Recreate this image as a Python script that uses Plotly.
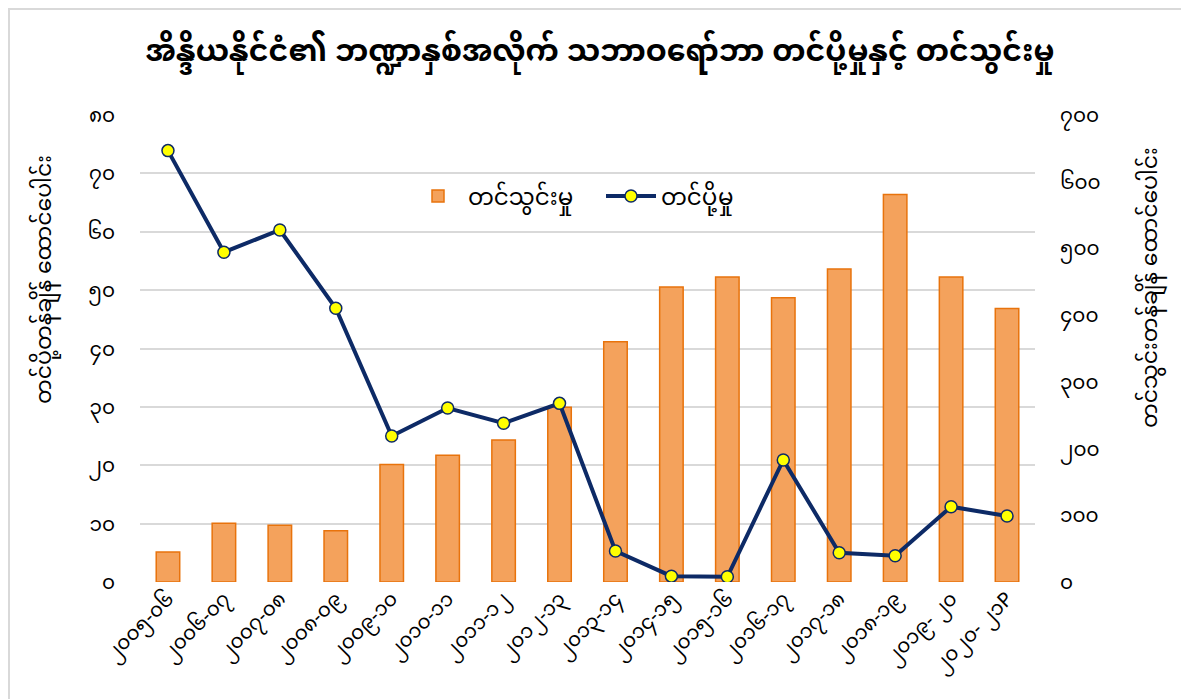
import plotly.graph_objects as go

categories = ["၂၀၀၅-၀၆", "၂၀၀၆-၀၇", "၂၀၀၇-၀၈", "၂၀၀၈-၀၉", "၂၀၀၉-၁၀", "၂၀၁၀-၁၁",
              "၂၀၁၁-၁၂", "၂၀၁၂-၁၃", "၂၀၁၃-၁၄", "၂၀၁၄-၁၅", "၂၀၁၅-၁၆", "၂၀၁၆-၁၇",
              "၂၀၁၇-၁၈", "၂၀၁၈-၁၉", "၂၀၁၉- ၂၀", "၂၀၂၀- ၂၁P"]
imports = [45, 88, 85, 77, 176, 190, 213, 262, 360, 442, 457, 426, 469, 581, 457, 410]
exports = [73.9, 56.5, 60.3, 46.9, 25.0, 29.8, 27.2, 30.6, 5.3, 1.0, 0.9, 20.9, 5.0, 4.5, 12.9, 11.3]

left_ticks = [0, 10, 20, 30, 40, 50, 60, 70, 80]
left_ticktext = ["၀", "၁၀", "၂၀", "၃၀", "၄၀", "၅၀", "၆၀", "၇၀", "၈၀"]
right_ticks = [0, 100, 200, 300, 400, 500, 600, 700]
right_ticktext = ["၀", "၁၀၀", "၂၀၀", "၃၀၀", "၄၀၀", "၅၀၀", "၆၀၀", "၇၀၀"]

title_text = "အိန္ဒိယနိုင်ငံ၏ ဘဏ္ဍာနှစ်အလိုက် သဘာဝရော်ဘာ တင်ပို့မှုနှင့် တင်သွင်းမှု"
left_title = "တင်ပို့တန်ချိန် ထောင်ပေါင်း"
right_title = "တင်သွင်းတန်ချိန် ထောင်ပေါင်း"
import_name = "တင်သွင်းမှု"
export_name = "တင်ပို့မှု"

FONT = "Noto Sans Myanmar, Padauk, Myanmar Text, Noto Sans, DejaVu Sans, sans-serif"

# page body adds an 8px offset; plot area placed at screen x 140-1035, y 115-582
L, R, T, B = 132, 162, 107, 125
PW, PH = 1189 - L - R, 699 - T - B

def px(xs):
    return (xs - 8 - L) / PW

def py(ys):
    return (699 - B - (ys - 8)) / PH

fig = go.Figure()
fig.add_trace(go.Bar(
    x=categories, y=imports, name=import_name, yaxis="y",
    marker=dict(color="#F4A25C", line=dict(color="#E8730C", width=1.5)),
    width=0.42,
))
fig.add_trace(go.Scatter(
    x=categories, y=exports, name=export_name, yaxis="y2", mode="lines+markers",
    line=dict(color="#0D2A66", width=4),
    marker=dict(color="#FFFF00", size=12, line=dict(color="#0D2A66", width=1.5)),
))

fig.update_layout(
    width=1189, height=699,
    margin=dict(l=L, r=R, t=T, b=B, autoexpand=False),
    paper_bgcolor="white", plot_bgcolor="white",
    font=dict(family=FONT, color="#000000", size=20),
    title=dict(text="<b>" + title_text + "</b>", x=px(600), xanchor="center", xref="paper",
               y=1 - 42 / 699, yanchor="middle", font=dict(size=30, color="#000000")),
    showlegend=True,
    legend=dict(orientation="h", x=px(408), xanchor="left", y=py(196), yanchor="middle",
                font=dict(size=23), bgcolor="rgba(0,0,0,0)", traceorder="normal",
                itemwidth=50, entrywidth=128),
    xaxis=dict(type="category", range=[-0.5, 15.5], tickangle=-45, showgrid=False,
               showline=False, ticks="", tickfont=dict(size=20), automargin=False),
    yaxis=dict(range=[0, 700], tickvals=right_ticks, ticktext=right_ticktext, side="right",
               showgrid=False, zeroline=False, ticks="", ticklabelstandoff=24,
               tickfont=dict(size=20), automargin=False),
    yaxis2=dict(range=[0, 80], tickvals=left_ticks, ticktext=left_ticktext, side="left",
                overlaying="y", showgrid=True, gridcolor="#D9D9D9", gridwidth=1.5,
                zeroline=False, ticks="", ticklabelstandoff=24, tickfont=dict(size=20),
                automargin=False),
    shapes=[dict(type="rect", xref="paper", yref="paper",
                 x0=px(9), x1=px(1186), y0=py(720), y1=py(9),
                 line=dict(color="#D9D9D9", width=2), layer="below")],
    annotations=[
        dict(text=left_title, xref="paper", yref="paper", x=px(46), y=py(280), textangle=-90,
             showarrow=False, font=dict(size=22), xanchor="center", yanchor="middle"),
        dict(text=right_title, xref="paper", yref="paper", x=px(1152), y=py(288), textangle=-90,
             showarrow=False, font=dict(size=22), xanchor="center", yanchor="middle"),
    ],
)

fig.write_html("out.html")
